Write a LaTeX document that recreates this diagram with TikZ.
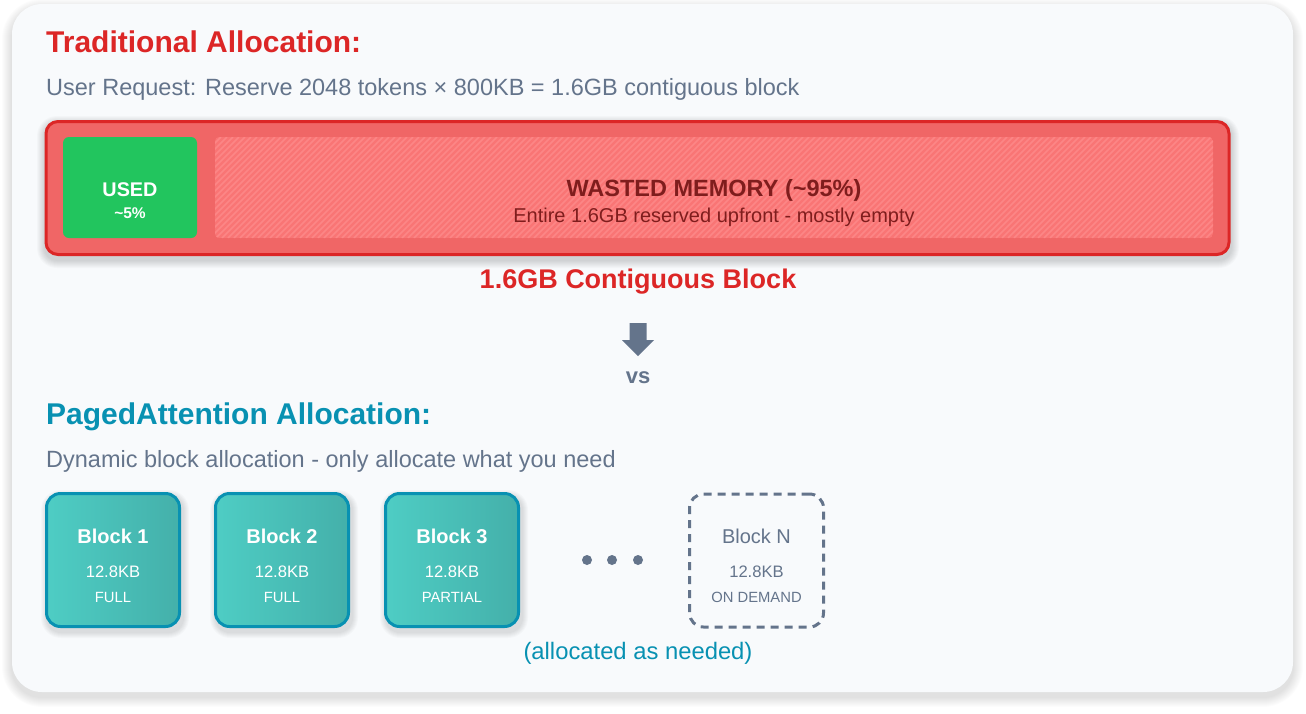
\documentclass[tikz,border=0pt]{standalone}
\usepackage{fontspec}
\setmainfont{Liberation Sans}
\usetikzlibrary{arrows.meta, positioning}
\definecolor{cardbg}   {RGB}{248, 250, 252}
\definecolor{redclr}   {RGB}{220,  38,  38}
\definecolor{barfill}  {RGB}{240, 102, 102}
\definecolor{hatchbg}  {RGB}{249, 117, 117}
\definecolor{hatchln}  {RGB}{252, 134, 134}
\definecolor{usedclr}  {RGB}{ 34, 197,  94}
\definecolor{darkred}  {RGB}{127,  29,  29}
\definecolor{slate}    {RGB}{100, 116, 139}
\definecolor{tealclr}  {RGB}{  8, 145, 178}
\definecolor{tealL}    {RGB}{ 78, 205, 196}
\definecolor{tealR}    {RGB}{ 68, 176, 170}

\begin{document}
\begin{tikzpicture}[x=1pt, y=-1pt,
  sectitle/.style={anchor=base west, inner sep=0pt, font=\fontsize{30}{36}\selectfont\bfseries},
  subtext/.style={anchor=base west, inner sep=0pt, text=slate, font=\fontsize{23.5}{28}\selectfont},
  blockbox/.style={draw=tealclr, line width=3pt, rounded corners=14pt,
    minimum width=133pt, minimum height=133pt, left color=tealL, right color=tealR},
  blkname/.style={anchor=base, inner sep=0pt, text=white, font=\fontsize{20}{24}\selectfont\bfseries},
  blksize/.style={anchor=base, inner sep=0pt, text=white, font=\fontsize{16.6}{20}\selectfont},
  blkstate/.style={anchor=base, inner sep=0pt, text=white, font=\fontsize{14.8}{18}\selectfont},
  shade/.style={black, opacity=#1},
  stripe/.style={hatchln, line width=1.6pt}]
  \useasboundingbox[fill=white] (0,0) rectangle (1306,713);
  % card with soft shadow
  \foreach \k in {1,...,10}
    \fill[shade=0.012, rounded corners=30+\k] (12-\k,9-\k) rectangle (1293+\k,697+\k);
  \fill[cardbg, rounded corners=30pt] (12,4) rectangle (1293,692);

  % traditional allocation
  \node[sectitle, text=redclr] (trad-title) at (46,52) {Traditional Allocation:};
  \node[subtext] (trad-req) at (46,95) {User Request: Reserve 2048 tokens × 800KB = 1.6GB contiguous block};
  \foreach \k in {1,...,8}
    \fill[shade=0.018, rounded corners=12+\k] (45-\k,124-\k) rectangle (1231+\k,260+\k);
  \node[draw=redclr, fill=barfill, line width=3pt, rounded corners=12pt,
    minimum width=1183pt, minimum height=133pt] (bar) at (637.5,188) {};
  \begin{scope}
    \clip[rounded corners=4pt] (215,137) rectangle (1213,238);
    \fill[hatchbg] (215,137) rectangle (1213,238);
    \foreach \i in {0,6,...,1110}
      \draw[stripe] (114+\i,238) -- ++(101,-101);
  \end{scope}
  \node[fill=usedclr, rounded corners=6pt, minimum width=134pt, minimum height=101pt] (used) at (130,187.5) {};
  \node[anchor=base, inner sep=0pt, text=white, font=\fontsize{19.8}{24}\selectfont\bfseries] (used-lbl) at (130,196) {USED};
  \node[anchor=base, inner sep=0pt, text=white, font=\fontsize{15.5}{19}\selectfont\bfseries] (used-pct) at (130,218) {\char"007E 5\%};
  \node[anchor=base, inner sep=0pt, text=darkred, font=\fontsize{23.5}{28}\selectfont\bfseries] (waste-lbl) at (714,196) {WASTED MEMORY (\char"007E 95\%)};
  \node[anchor=base, inner sep=0pt, text=darkred, font=\fontsize{20}{24}\selectfont] (waste-txt) at (714,222) {Entire 1.6GB reserved upfront - mostly empty};
  \node[anchor=base, inner sep=0pt, text=redclr, font=\fontsize{27}{32}\selectfont\bfseries] (bar-lbl) at (638,288) {1.6GB Contiguous Block};

  % vs arrow
  \fill[slate] (629.5,323) -- (646.5,323) -- (646.5,340) -- (654,340) -- (638,356)
    -- (622,340) -- (629.5,340) -- cycle;
  \node[anchor=base, inner sep=0pt, text=slate, font=\fontsize{22}{26}\selectfont\bfseries] (vs) at (638,383) {vs};

  % paged attention
  \node[sectitle, text=tealclr] (paged-title) at (46,424) {PagedAttention Allocation:};
  \node[subtext] (paged-txt) at (46,467) {Dynamic block allocation - only allocate what you need};
  \foreach \n/\x/\st in {1/113/FULL, 2/282/FULL, 3/452/PARTIAL} {
    \foreach \k in {1,...,6}
      \fill[shade=0.02, rounded corners=14+\k] (\x-66-\k,496-\k) rectangle (\x+70+\k,632+\k);
    \node[blockbox] (blk\n) at (\x,560) {};
    \node[blkname] at ([yshift=-51pt]blk\n.north) {Block \n};
    \node[blksize] at ([yshift=-85pt]blk\n.north) {12.8KB};
    \node[blkstate] at ([yshift=-110pt]blk\n.north) {\st};
  }
  \foreach \x in {587,612,638}
    \fill[slate] (\x,560) circle (5pt);
  \node[draw=slate, line width=3pt, dash pattern=on 8pt off 6pt, rounded corners=14pt,
    minimum width=134pt, minimum height=133pt] (blkN) at (756.5,560.5) {};
  \node[blkname, text=slate, font=\fontsize{20}{24}\selectfont] at ([yshift=-51pt]blkN.north) {Block N};
  \node[blksize, text=slate] at ([yshift=-85pt]blkN.north) {12.8KB};
  \node[blkstate, text=slate] at ([yshift=-110pt]blkN.north) {ON DEMAND};
  \node[anchor=base, inner sep=0pt, text=tealclr, font=\fontsize{23.8}{28}\selectfont] (needed) at (638,659) {(allocated as needed)};
\end{tikzpicture}
\end{document}
